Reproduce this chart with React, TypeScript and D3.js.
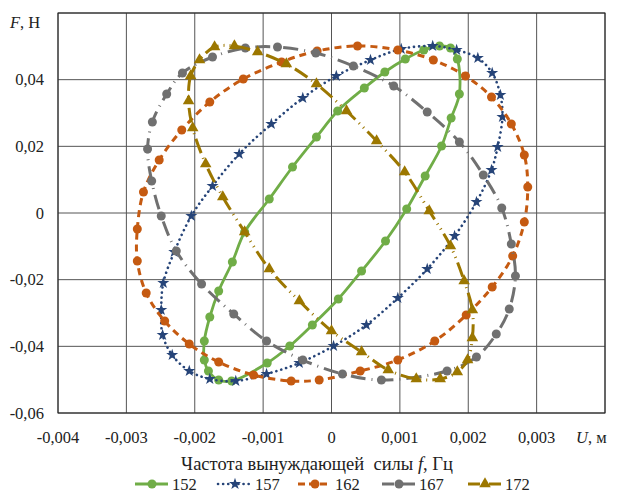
import React from "react";
import * as d3 from "d3";

// hysteresis loops, U (m) vs F (N)
const u152 = [-0.00186, -0.00186, -0.00178, -0.00165, -0.00145, -0.00127, -0.00091, -0.00057, -0.00022, 0.00009, 0.00048, 0.00078, 0.00108, 0.00135, 0.00158, 0.00174, 0.00184, 0.00187, 0.00175, 0.00161, 0.00137, 0.0011, 0.00079, 0.00044, 0.0001, -0.00028, -0.00061, -0.00094, -0.00146, -0.00165, -0.0018];
const f152 = [-0.0441, -0.0384, -0.0312, -0.0234, -0.0147, -0.0057, 0.0042, 0.0138, 0.0228, 0.0306, 0.0375, 0.0423, 0.0462, 0.0489, 0.0501, 0.0495, 0.0462, 0.0357, 0.0285, 0.0201, 0.0111, 0.0012, -0.0084, -0.0174, -0.0258, -0.0336, -0.0399, -0.045, -0.0504, -0.0501, -0.0474];

const u157 = [-0.00205, -0.00174, -0.00135, -0.00088, -0.00042, 0.00007, 0.00057, 0.00102, 0.00148, 0.00183, 0.00214, 0.00235, 0.00247, 0.0025, 0.00243, 0.00234, 0.00212, 0.0018, 0.0014, 0.00097, 0.00051, 0.00003, -0.00047, -0.00095, -0.0014, -0.00178, -0.00208, -0.00233, -0.00247, -0.00249, -0.00246, -0.0023];
const f157 = [-0.0009, 0.0081, 0.0177, 0.0267, 0.0345, 0.0411, 0.0459, 0.0492, 0.0501, 0.0489, 0.0465, 0.042, 0.0354, 0.0288, 0.0198, 0.0129, 0.0033, -0.0069, -0.0168, -0.0255, -0.0336, -0.0399, -0.045, -0.0483, -0.0504, -0.0498, -0.0474, -0.0426, -0.0366, -0.0291, -0.021, -0.0117];

const u162 = [-0.00284, -0.00284, -0.00275, -0.00252, -0.00219, -0.00178, -0.00129, -0.00073, -0.00021, 0.00038, 0.00097, 0.00149, 0.00196, 0.00234, 0.00263, 0.00282, 0.00287, 0.00282, 0.00265, 0.00235, 0.00197, 0.00151, 0.00097, 0.00042, -0.00018, -0.00059, -0.00114, -0.00165, -0.00208, -0.00244, -0.00271];
const f162 = [-0.0144, -0.0048, 0.0063, 0.0159, 0.0249, 0.0333, 0.0402, 0.0453, 0.0486, 0.0501, 0.0489, 0.0459, 0.0411, 0.0348, 0.0267, 0.0174, 0.0078, -0.0027, -0.0129, -0.0222, -0.0306, -0.0384, -0.0441, -0.0474, -0.0501, -0.0504, -0.0486, -0.0447, -0.0393, -0.0324, -0.024];

const u167 = [-0.00249, -0.00263, -0.00269, -0.00262, -0.00241, -0.00218, -0.00174, -0.00126, -0.00079, -0.00023, 0.00032, 0.00091, 0.0014, 0.00187, 0.00222, 0.00249, 0.00263, 0.00269, 0.0026, 0.00241, 0.00212, 0.00169, 0.00073, 0.00016, -0.00042, -0.00095, -0.00143, -0.0019, -0.00227];
const f167 = [-0.0009, 0.0096, 0.0192, 0.0273, 0.0357, 0.042, 0.0468, 0.0495, 0.0498, 0.048, 0.0441, 0.0381, 0.0303, 0.0213, 0.0114, 0.0015, -0.0093, -0.0189, -0.0288, -0.0363, -0.0432, -0.0474, -0.0501, -0.0483, -0.0441, -0.0384, -0.0303, -0.0213, -0.0114];

const u172 = [-0.00193, -0.00206, -0.00209, -0.00203, -0.00184, -0.00159, -0.00127, -0.00091, -0.00047, 0, 0.00044, 0.00083, 0.00124, 0.00159, 0.00184, 0.00199, 0.00206, 0.00206, 0.00194, 0.00174, 0.00143, 0.00107, 0.00066, 0.00022, -0.00022, -0.00066, -0.00108, -0.00142, -0.00171];
const f172 = [0.0459, 0.0411, 0.0336, 0.0255, 0.0147, 0.0048, -0.0057, -0.0168, -0.0264, -0.0354, -0.0417, -0.0471, -0.0498, -0.0498, -0.0477, -0.0441, -0.0375, -0.0291, -0.0204, -0.0099, 0.0006, 0.0123, 0.0216, 0.0306, 0.0387, 0.0447, 0.0483, 0.0501, 0.0498];

const names = ["152", "157", "162", "167", "172"];
const uData = [u152, u157, u162, u167, u172];
const fData = [f152, f157, f162, f167, f172];

const xTicks = [-0.004, -0.003, -0.002, -0.001, 0, 0.001, 0.002, 0.003, 0.004];
const yTicks = [-0.06, -0.04, -0.02, 0, 0.02, 0.04, 0.06];

const styles = [
  { color: "#70AD47", dash: "none", legendDash: "none", width: 2.8, marker: "circle" },
  { color: "#264478", dash: "0.1 5", legendDash: "0.1 5", width: 2.6, marker: "star" },
  { color: "#C55A11", dash: "7 5", legendDash: "7 4", width: 3, marker: "circle" },
  { color: "#707070", dash: "15 6 1 6", legendDash: "12 4 1 4", width: 3, marker: "circle" },
  { color: "#9C7700", dash: "15 5 1 5 1 5", legendDash: "12 4 1 4", width: 3, marker: "triangle" },
];

const fmt = (v: number) => {
  if (v === 0) return "0";
  return d3.format(".3~f")(v).replace(".", ",").replace("−", "-");
};

const Marker = ({ kind, x, y, color }: any) => {
  if (kind === "circle") return <circle cx={x} cy={y} r={4.5} fill={color} />;
  const sym = kind === "star" ? d3.symbolStar : d3.symbolTriangle;
  const size = kind === "star" ? 45 : 58;
  return (
    <path
      d={d3.symbol().type(sym).size(size)() as string}
      transform={`translate(${x},${y})`}
      fill={color}
    />
  );
};

const FONT = "Liberation Serif, Times New Roman, serif";

const App = () => {
  const width = 617;
  const height = 493;
  const x = d3.scaleLinear().domain([-0.004, 0.004]).range([58, 605]);
  const y = d3.scaleLinear().domain([-0.06, 0.06]).range([413, 13]);
  const line = d3
    .line<[number, number]>()
    .x(d => x(d[0]))
    .y(d => y(d[1]))
    .curve(d3.curveCatmullRomClosed.alpha(0.5));

  const legendX = [135, 218, 298, 382, 468];

  return (
    <svg
      width={width}
      height={height}
      fontFamily={FONT}
      style={{ position: "absolute", left: 0, top: 0 }}
    >
      <rect width={width} height={height} fill="white" />
      {xTicks.map(t => (
        <line key={"gx" + t} x1={x(t)} x2={x(t)} y1={y(-0.06)} y2={y(0.06)} stroke="#555" strokeWidth={1} />
      ))}
      {yTicks.map(t => (
        <line key={"gy" + t} x1={x(-0.004)} x2={x(0.004)} y1={y(t)} y2={y(t)} stroke="#555" strokeWidth={1} />
      ))}
      <rect x={58} y={13} width={547} height={400} fill="none" stroke="#222" strokeWidth={1} />

      {xTicks.slice(0, -1).map(t => (
        <text key={"tx" + t} x={x(t)} y={443} fontSize={16.5} textAnchor="middle" fill="#222">
          {fmt(t)}
        </text>
      ))}
      {yTicks.slice(0, -1).map(t => (
        <text key={"ty" + t} x={44} y={y(t) + 5.5} fontSize={16.5} textAnchor="end" fill="#222">
          {fmt(t)}
        </text>
      ))}
      <text x={10} y={28} fontSize={16.5} fill="#222">
        <tspan fontStyle="italic">F</tspan>, Н
      </text>
      <text x={576} y={443} fontSize={16.5} fill="#222">
        <tspan fontStyle="italic">U</tspan>, м
      </text>

      {names.map((name, i) => {
        const pts = uData[i].map((u, j) => [u, fData[i][j]] as [number, number]);
        const s = styles[i];
        return (
          <g key={name}>
            <path
              d={line(pts) as string}
              fill="none"
              stroke={s.color}
              strokeWidth={s.width}
              strokeDasharray={s.dash}
              strokeLinecap={i === 1 ? "round" : "butt"}
            />
            {pts.map((p, j) => (
              <Marker key={j} kind={s.marker} x={x(p[0])} y={y(p[1])} color={s.color} />
            ))}
          </g>
        );
      })}

      <text x={317} y={470} fontSize={18.5} textAnchor="middle" fill="#222">
        Частота вынуждающей{"\u00a0\u00a0"}силы <tspan fontStyle="italic">f</tspan>, Гц
      </text>
      {names.map((name, i) => {
        const s = styles[i];
        const lx = legendX[i];
        return (
          <g key={"lg" + name}>
            <line
              x1={lx}
              x2={lx + 33}
              y1={484}
              y2={484}
              stroke={s.color}
              strokeWidth={s.width}
              strokeDasharray={s.legendDash}
              strokeLinecap={i === 1 ? "round" : "butt"}
            />
            <Marker kind={s.marker} x={lx + 17} y={484} color={s.color} />
            <text x={lx + 37} y={489.5} fontSize={16.5} fill="#222">
              {name}
            </text>
          </g>
        );
      })}
    </svg>
  );
};

export default App;
